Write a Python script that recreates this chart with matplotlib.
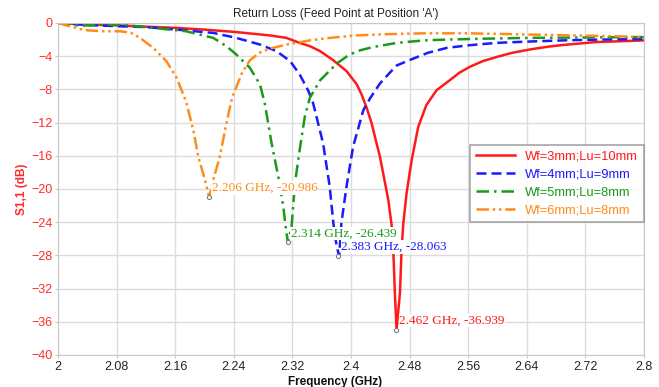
import matplotlib
matplotlib.use("Agg")
import matplotlib.pyplot as plt

plt.rcParams["font.family"] = ["Liberation Sans", "DejaVu Sans"]

# Return loss curves (GHz, dB)
red_f = [2.00, 2.04, 2.085, 2.12, 2.162, 2.20, 2.2435, 2.289, 2.312, 2.33, 2.344, 2.358, 2.376,
         2.394, 2.408, 2.414, 2.421, 2.428, 2.435, 2.4396, 2.444, 2.451, 2.4555, 2.458, 2.460,
         2.4623, 2.467, 2.469, 2.4714, 2.476, 2.483, 2.492, 2.503, 2.517, 2.535, 2.548, 2.562,
         2.58, 2.599, 2.62, 2.644, 2.67, 2.69, 2.735, 2.77, 2.80]
red_db = [0.0, -0.2, -0.3, -0.45, -0.6, -0.8, -1.1, -1.5, -1.8, -2.4, -2.8, -3.4, -4.5,
          -5.8, -7.4, -8.5, -10.1, -12.0, -14.5, -16.1, -18.1, -21.3, -24.3, -27.7, -32.5,
          -36.939, -32.5, -27.7, -24.3, -20.5, -16.5, -12.5, -9.9, -8.1, -6.9, -6.0, -5.3,
          -4.6, -4.1, -3.6, -3.2, -2.85, -2.65, -2.3, -2.2, -2.1]

blue_f = [2.00, 2.04, 2.085, 2.12, 2.162, 2.212, 2.2435, 2.2758, 2.2985, 2.317, 2.330, 2.342,
          2.3485, 2.362, 2.371, 2.376, 2.3805, 2.384, 2.387, 2.394, 2.403, 2.417, 2.426, 2.4396,
          2.453, 2.463, 2.485, 2.505, 2.531, 2.56, 2.599, 2.64, 2.69, 2.74, 2.80]
blue_db = [0.0, -0.25, -0.4, -0.5, -0.8, -1.2, -1.8, -2.6, -3.4, -4.6, -6.2, -8.2,
           -9.7, -14.5, -19.7, -24.1, -26.9, -28.063, -24.1, -19.7, -14.9, -10.5, -9.1, -7.3,
           -6.0, -5.1, -4.3, -3.6, -3.0, -2.7, -2.4, -2.25, -2.1, -2.0, -1.95]

green_f = [2.00, 2.03, 2.06, 2.085, 2.13, 2.175, 2.212, 2.23, 2.2435, 2.262, 2.2758, 2.2826,
           2.2917, 2.3008, 2.3076, 2.312, 2.314, 2.319, 2.3236, 2.330, 2.337, 2.344, 2.358,
           2.3805, 2.395, 2.408, 2.43, 2.463, 2.50, 2.531, 2.58, 2.64, 2.72, 2.80]
green_db = [0.0, -0.35, -0.2, -0.2, -0.6, -1.0, -1.8, -2.8, -3.8, -5.4, -7.4, -9.8,
            -14.5, -18.5, -22.1, -25.3, -26.439, -24.5, -19.3, -15.3, -11.3, -9.0, -6.9,
            -4.9, -4.0, -3.4, -2.9, -2.4, -2.1, -2.0, -1.9, -1.8, -1.75, -1.7]

orange_f = [2.00, 2.02, 2.035, 2.06, 2.085, 2.10, 2.112, 2.130, 2.148, 2.162, 2.175, 2.185,
            2.1915, 2.2007, 2.2066, 2.212, 2.221, 2.230, 2.2377, 2.2514, 2.262, 2.275, 2.289,
            2.312, 2.344, 2.371, 2.408, 2.45, 2.50, 2.56, 2.62, 2.70, 2.76, 2.80]
orange_db = [0.0, -0.5, -0.85, -1.0, -1.0, -1.2, -1.8, -3.0, -4.6, -6.6, -9.5, -13.0,
             -16.1, -18.9, -20.986, -18.9, -16.1, -12.1, -9.0, -6.0, -4.5, -3.6, -3.1,
             -2.6, -2.1, -1.8, -1.5, -1.35, -1.25, -1.25, -1.35, -1.5, -1.6, -1.7]

labels = ["Wf=3mm;Lu=10mm", "Wf=4mm;Lu=9mm", "Wf=5mm;Lu=8mm", "Wf=6mm;Lu=8mm"]
min_f = [2.462, 2.383, 2.314, 2.206]
min_db = [-36.939, -28.063, -26.439, -20.986]

colors = ["#ff1a1a", "#1a1aff", "#1a9a1a", "#ff8c1a"]
styles = ["-", (0, (4, 2)), (0, (5, 2, 1, 2)), (0, (5, 1.5, 1, 1.5, 1, 1.5))]

fig = plt.figure(figsize=(6.59, 3.87), dpi=100)
ax = fig.add_axes([0.088, 0.0827, 0.889, 0.858])

series = [(red_f, red_db), (blue_f, blue_db), (green_f, green_db), (orange_f, orange_db)]
for (f, db), c, ls, lab in zip(series, colors, styles, labels):
    ax.plot(f, db, color=c, linestyle=ls, linewidth=1.8, label=lab)

# marker labels at each minimum
for mf, md, c in zip(min_f, min_db, colors):
    ax.plot(mf, md, marker="o", ms=3, mfc="white", mec="#808080", mew=0.8, zorder=5)
    ax.annotate(f"{mf:.3f} GHz, {md:.3f}", (mf, md), xytext=(3, 9), textcoords="offset pixels",
                ha="left", va="center", color=c, fontsize=9.5, family="Liberation Serif",
                bbox=dict(boxstyle="square,pad=0.05", fc="white", ec="none"), zorder=6)

ax.set_xlim(2, 2.8)
ax.set_ylim(-40, 0)
xt = [2, 2.08, 2.16, 2.24, 2.32, 2.4, 2.48, 2.56, 2.64, 2.72, 2.8]
ax.set_xticks(xt)
ax.set_xticklabels([f"{v:g}" for v in xt])
ax.set_yticks(range(-40, 1, 4))
ax.grid(True, color="#dcdcdc", linewidth=1)
ax.set_axisbelow(True)
for s in ax.spines.values():
    s.set_color("#c8c8c8")
ax.tick_params(axis="both", length=2, color="#c8c8c8", labelsize=9)
ax.tick_params(axis="y", labelcolor="#ff2a2a", pad=2)
ax.tick_params(axis="x", labelcolor="#222222", pad=2)

fig.text(0.509, 0.964, "Return Loss (Feed Point at Position 'A')", fontsize=8.5,
         color="#222222", ha="center", va="center")
ax.set_xlabel("Frequency (GHz)", fontsize=8.5, fontweight="bold", color="#111111")
ax.xaxis.set_label_coords(0.4735, -0.064)
ax.set_ylabel("S1,1 (dB)", fontsize=8.5, fontweight="bold", color="#ff2a2a", labelpad=2)

leg = ax.legend(loc="upper right", bbox_to_anchor=(1.0, 0.6325), borderaxespad=0,
                fancybox=False, edgecolor="#909090", fontsize=9.3, handlelength=3.0,
                labelspacing=0.45, borderpad=0.45)
leg.get_frame().set_linewidth(1.2)
for t, c in zip(leg.get_texts(), colors):
    t.set_color(c)

fig.savefig("out.png", dpi=100)
